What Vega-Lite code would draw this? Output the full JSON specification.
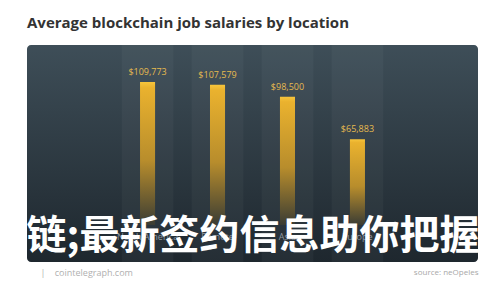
{
  "$schema": "https://vega.github.io/schema/vega-lite/v6.json",
  "width": 451,
  "height": 217,
  "autosize": {"type": "none"},
  "padding": {"left": 27, "top": 45, "right": 22, "bottom": 38},
  "background": "#ffffff",
  "title": {
    "text": "Average blockchain job salaries by location",
    "anchor": "start",
    "frame": "group",
    "font": "Open Sans",
    "fontSize": 15,
    "fontWeight": "bold",
    "color": "#333333",
    "offset": 14
  },
  "config": {
    "font": "Open Sans",
    "view": {
      "fill": {
        "gradient": "linear",
        "x1": 0, "y1": 0, "x2": 0, "y2": 1,
        "stops": [
          {"offset": 0, "color": "#3e4e58"},
          {"offset": 1, "color": "#1e272e"}
        ]
      },
      "cornerRadius": 4,
      "stroke": null
    }
  },
  "data": {
    "values": [
      {"location": "North America", "salary": 109773},
      {"location": "Remote", "salary": 107579},
      {"location": "Asia", "salary": 98500},
      {"location": "Europe", "salary": 65883}
    ]
  },
  "encoding": {
    "x": {
      "field": "location",
      "type": "nominal",
      "sort": null,
      "scale": {"range": [20.5, 430.5], "paddingInner": 0.14, "paddingOuter": 1},
      "axis": {
        "title": "链;最新签约信息助你把握",
        "labels": false,
        "ticks": false,
        "domain": false,
        "grid": false,
        "titleFont": "Noto Sans CJK SC",
        "titleFontSize": 40,
        "titleFontWeight": "bold",
        "titleColor": "#ffffff",
        "titleY": -26,
        "titleBaseline": "middle"
      }
    }
  },
  "layer": [
    {
      "mark": {
        "type": "rect",
        "width": {"band": 0.86},
        "fill": "#ffffff",
        "opacity": 0.035
      }
    },
    {
      "mark": {"type": "rule", "color": "#56626b", "strokeWidth": 1, "opacity": 0.7},
      "encoding": {
        "y": {"datum": 0, "scale": {"domain": [-28400, 138170]}, "axis": null}
      }
    },
    {
      "mark": {
        "type": "bar",
        "width": {"band": 0.25},
        "color": {
          "gradient": "linear",
          "x1": 0, "y1": 0, "x2": 0, "y2": 1,
          "stops": [
            {"offset": 0, "color": "#f7c53c"},
            {"offset": 0.04, "color": "#eab22e"},
            {"offset": 0.55, "color": "#b88d2c"},
            {"offset": 1, "color": "#3a3c34"}
          ]
        }
      },
      "encoding": {
        "y": {
          "field": "salary",
          "type": "quantitative",
          "scale": {"domain": [-28400, 138170]},
          "axis": {
            "orient": "left",
            "title": "|\u00a0\u00a0\u00a0\u00a0cointelegraph.com",
            "labels": false,
            "ticks": false,
            "domain": false,
            "grid": false,
            "titleAngle": 0,
            "titleX": 13,
            "titleY": 227,
            "titleAlign": "left",
            "titleBaseline": "middle",
            "titleFontSize": 9,
            "titleFontWeight": "normal",
            "titleColor": "#b0b0b0"
          }
        }
      }
    },
    {
      "mark": {"type": "text", "dy": -10, "fontSize": 9, "color": "#e6bb4f"},
      "encoding": {
        "y": {
          "field": "salary",
          "type": "quantitative",
          "scale": {"domain": [-28400, 138170]},
          "axis": {
            "orient": "right",
            "title": "source: neOpeles",
            "labels": false,
            "ticks": false,
            "domain": false,
            "grid": false,
            "titleAngle": 0,
            "titleX": 0,
            "titleY": 227,
            "titleAlign": "right",
            "titleBaseline": "middle",
            "titleFontSize": 8,
            "titleFontWeight": "normal",
            "titleColor": "#a8a8a8"
          }
        },
        "text": {"field": "salary", "type": "quantitative", "format": "$,.0f"}
      }
    },
    {
      "mark": {"type": "text", "fontSize": 9, "color": "#8e99a1"},
      "encoding": {
        "y": {"datum": -9000, "scale": {"domain": [-28400, 138170]}, "axis": null},
        "text": {"field": "location", "type": "nominal"}
      }
    }
  ],
  "resolve": {"axis": {"y": "independent"}}
}
